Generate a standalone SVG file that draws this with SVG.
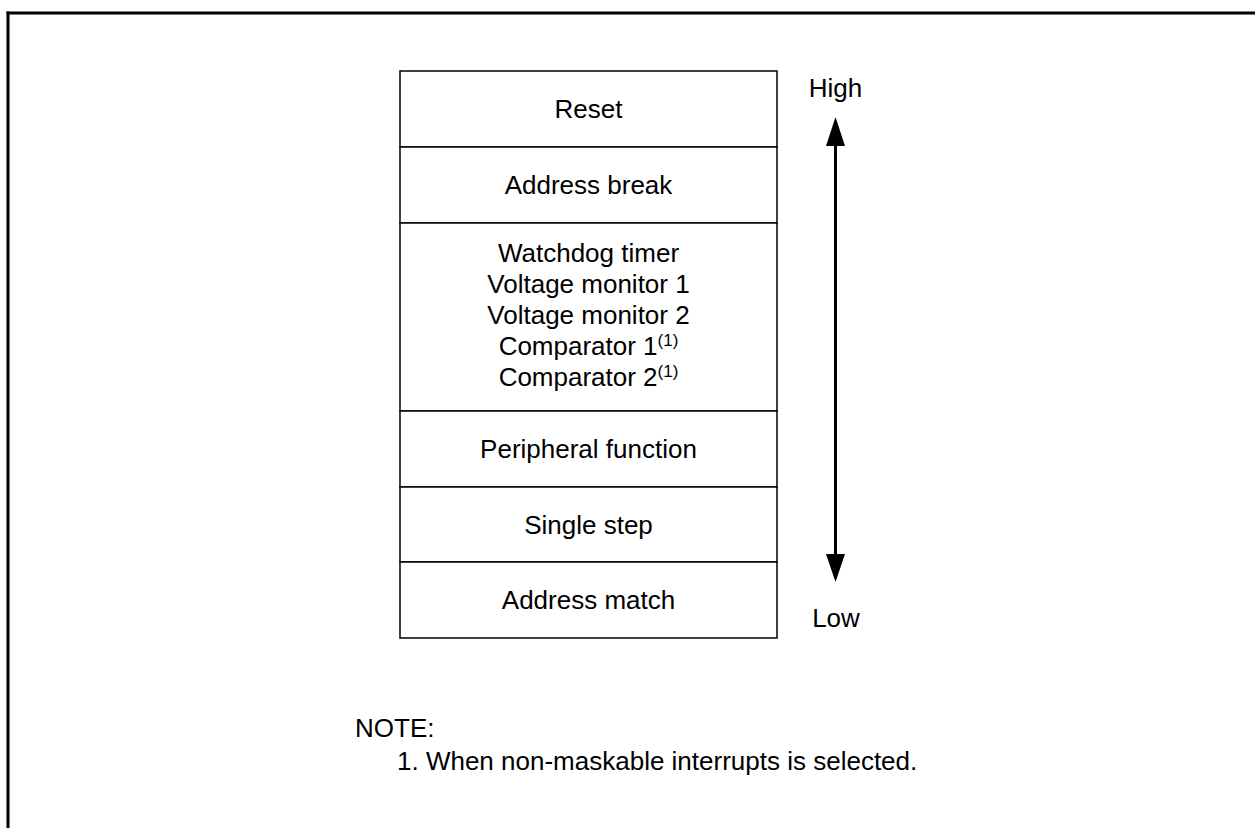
<svg xmlns="http://www.w3.org/2000/svg" width="1255" height="828" viewBox="0 0 1255 828">
<style>
text{font-family:"Liberation Sans",Arial,sans-serif;font-size:26px;fill:#000}
.c{text-anchor:middle}
.row{fill:#fff;stroke:#000;stroke-width:1.5}
.sup{font-size:17px}
</style>
<rect x="0" y="0" width="1255" height="828" fill="#fff"/>
<g id="frame" stroke="#000" stroke-width="3" fill="none">
<line x1="6.5" y1="13" x2="1255" y2="13"/>
<line x1="8" y1="11.5" x2="8" y2="828"/>
</g>
<g id="reset"><rect class="row" x="400" y="71" width="377" height="76"/><text class="c" x="588.5" y="118">Reset</text></g>
<g id="address-break"><rect class="row" x="400" y="147" width="377" height="76"/><text class="c" x="588.5" y="194">Address break</text></g>
<g id="watchdog"><rect class="row" x="400" y="223" width="377" height="188"/>
<text class="c" x="588.5" y="262">Watchdog timer</text>
<text class="c" x="588.5" y="293">Voltage monitor 1</text>
<text class="c" x="588.5" y="324">Voltage monitor 2</text>
<text class="c" x="588.5" y="355">Comparator 1<tspan class="sup" dy="-9">(1)</tspan></text>
<text class="c" x="588.5" y="386">Comparator 2<tspan class="sup" dy="-9">(1)</tspan></text>
</g>
<g id="peripheral"><rect class="row" x="400" y="411" width="377" height="76"/><text class="c" x="588.5" y="458">Peripheral function</text></g>
<g id="single-step"><rect class="row" x="400" y="487" width="377" height="75"/><text class="c" x="588.5" y="534">Single step</text></g>
<g id="address-match"><rect class="row" x="400" y="562" width="377" height="76"/><text class="c" x="588.5" y="609">Address match</text></g>
<g id="connectors">
<line x1="835.5" y1="144" x2="835.5" y2="556" stroke="#000" stroke-width="3"/>
<polygon points="835.5,117 826,146 845,146" fill="#000"/>
<polygon points="835.5,582 826,554 845,554" fill="#000"/>
</g>
<g id="labels">
<text class="c" x="835.5" y="97">High</text>
<text class="c" x="836" y="627">Low</text>
<text x="355" y="737">NOTE:</text>
<text x="397" y="770">1. When non-maskable interrupts is selected.</text>
</g>
</svg>
